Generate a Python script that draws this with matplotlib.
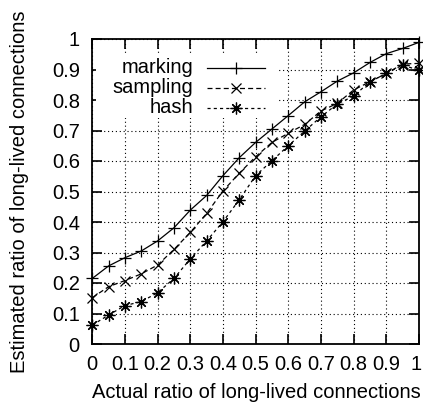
import matplotlib
matplotlib.use("Agg")
import matplotlib.pyplot as plt
from matplotlib.patches import Rectangle
from matplotlib.transforms import ScaledTranslation

plt.rcParams['font.family'] = ['Liberation Sans', 'DejaVu Sans']

actual = [0.00, 0.05, 0.10, 0.15, 0.20, 0.25, 0.30, 0.35, 0.40, 0.45, 0.50,
          0.55, 0.60, 0.65, 0.70, 0.75, 0.80, 0.85, 0.90, 0.95, 1.00]
marking = [0.215, 0.256, 0.283, 0.305, 0.338, 0.381, 0.439, 0.487, 0.552, 0.611, 0.661,
           0.705, 0.749, 0.794, 0.827, 0.862, 0.889, 0.923, 0.952, 0.969, 0.989]
sampling = [0.152, 0.188, 0.208, 0.230, 0.259, 0.310, 0.366, 0.428, 0.502, 0.560, 0.614,
            0.661, 0.691, 0.720, 0.764, 0.789, 0.833, 0.860, 0.887, 0.918, 0.920]
hashing = [0.062, 0.095, 0.126, 0.139, 0.168, 0.215, 0.279, 0.338, 0.401, 0.473, 0.552,
           0.601, 0.650, 0.698, 0.745, 0.787, 0.813, 0.860, 0.887, 0.915, 0.897]

series_names = ['marking', 'sampling', 'hash']
ticks = [0, 0.1, 0.2, 0.3, 0.4, 0.5, 0.6, 0.7, 0.8, 0.9, 1]
tick_labels = ['0', '0.1', '0.2', '0.3', '0.4', '0.5', '0.6', '0.7', '0.8', '0.9', '1']

FS = 14.5

styles = [
    dict(marker='+', linestyle='-', markersize=8.5, markeredgewidth=0.9),
    dict(marker='x', linestyle=(0, (4, 2.5)), markersize=7.5, markeredgewidth=0.9),
    dict(marker=(8, 2, 0), linestyle=(0, (2.5, 2.5)), markersize=8.5, markeredgewidth=0.9),
]

fig = plt.figure(figsize=(4.23, 4.05), dpi=100)
ax = fig.add_axes([92.3 / 423, 1 - 344 / 405, (419 - 92.3) / 423, (344 - 39) / 405])

for ys, st in zip([marking, sampling, hashing], styles):
    ax.plot(actual, ys, color='black', linewidth=0.9, clip_on=False, zorder=3, **st)

ax.set_xlim(0, 1)
ax.set_ylim(0, 1)
ax.set_xticks(ticks)
ax.set_xticklabels(tick_labels)
ax.set_yticks(ticks)
ax.set_yticklabels(tick_labels)
ax.tick_params(direction='in', length=7, width=1.2, top=True, right=True,
               labelsize=FS, colors='black')
ax.tick_params(axis='x', pad=8)
ax.tick_params(axis='y', pad=9)
for s in ax.spines.values():
    s.set_linewidth(1.3)
ax.grid(True, color='black', linestyle=(0, (1, 2.5)), linewidth=0.8)
ax.set_axisbelow(True)

# nudge the rightmost x tick label so it stays inside the figure
last = ax.get_xticklabels()[-1]
last.set_transform(last.get_transform() + ScaledTranslation(-2.5 / 100, 0, fig.dpi_scale_trans))

# Legend: right-aligned labels followed by line samples on a white box
ax.add_patch(Rectangle((0.01, 0.74), 0.56, 0.215, transform=ax.transAxes,
                       facecolor='white', edgecolor='none', zorder=2))
row_y = [0.905, 0.84, 0.775]
for name, st, yy in zip(series_names, styles, row_y):
    ax.text(0.31, yy, name, transform=ax.transAxes, ha='right', va='center',
            fontsize=FS, zorder=4)
    ax.plot([0.352, 0.53], [yy, yy], transform=ax.transAxes, color='black',
            linewidth=0.9, linestyle=st['linestyle'], zorder=4)
    ax.plot([0.441], [yy], transform=ax.transAxes, color='black',
            marker=st['marker'], markersize=st['markersize'],
            markeredgewidth=st['markeredgewidth'], linestyle='none', zorder=4)

fig.text(256 / 423, 1 - 393 / 405, 'Actual ratio of long-lived connections',
         ha='center', va='center', fontsize=FS)
fig.text(19.5 / 423, 1 - 191.5 / 405, 'Estimated ratio of long-lived connections',
         ha='center', va='center', rotation=90, fontsize=FS)

fig.savefig('out.png', dpi=100)
